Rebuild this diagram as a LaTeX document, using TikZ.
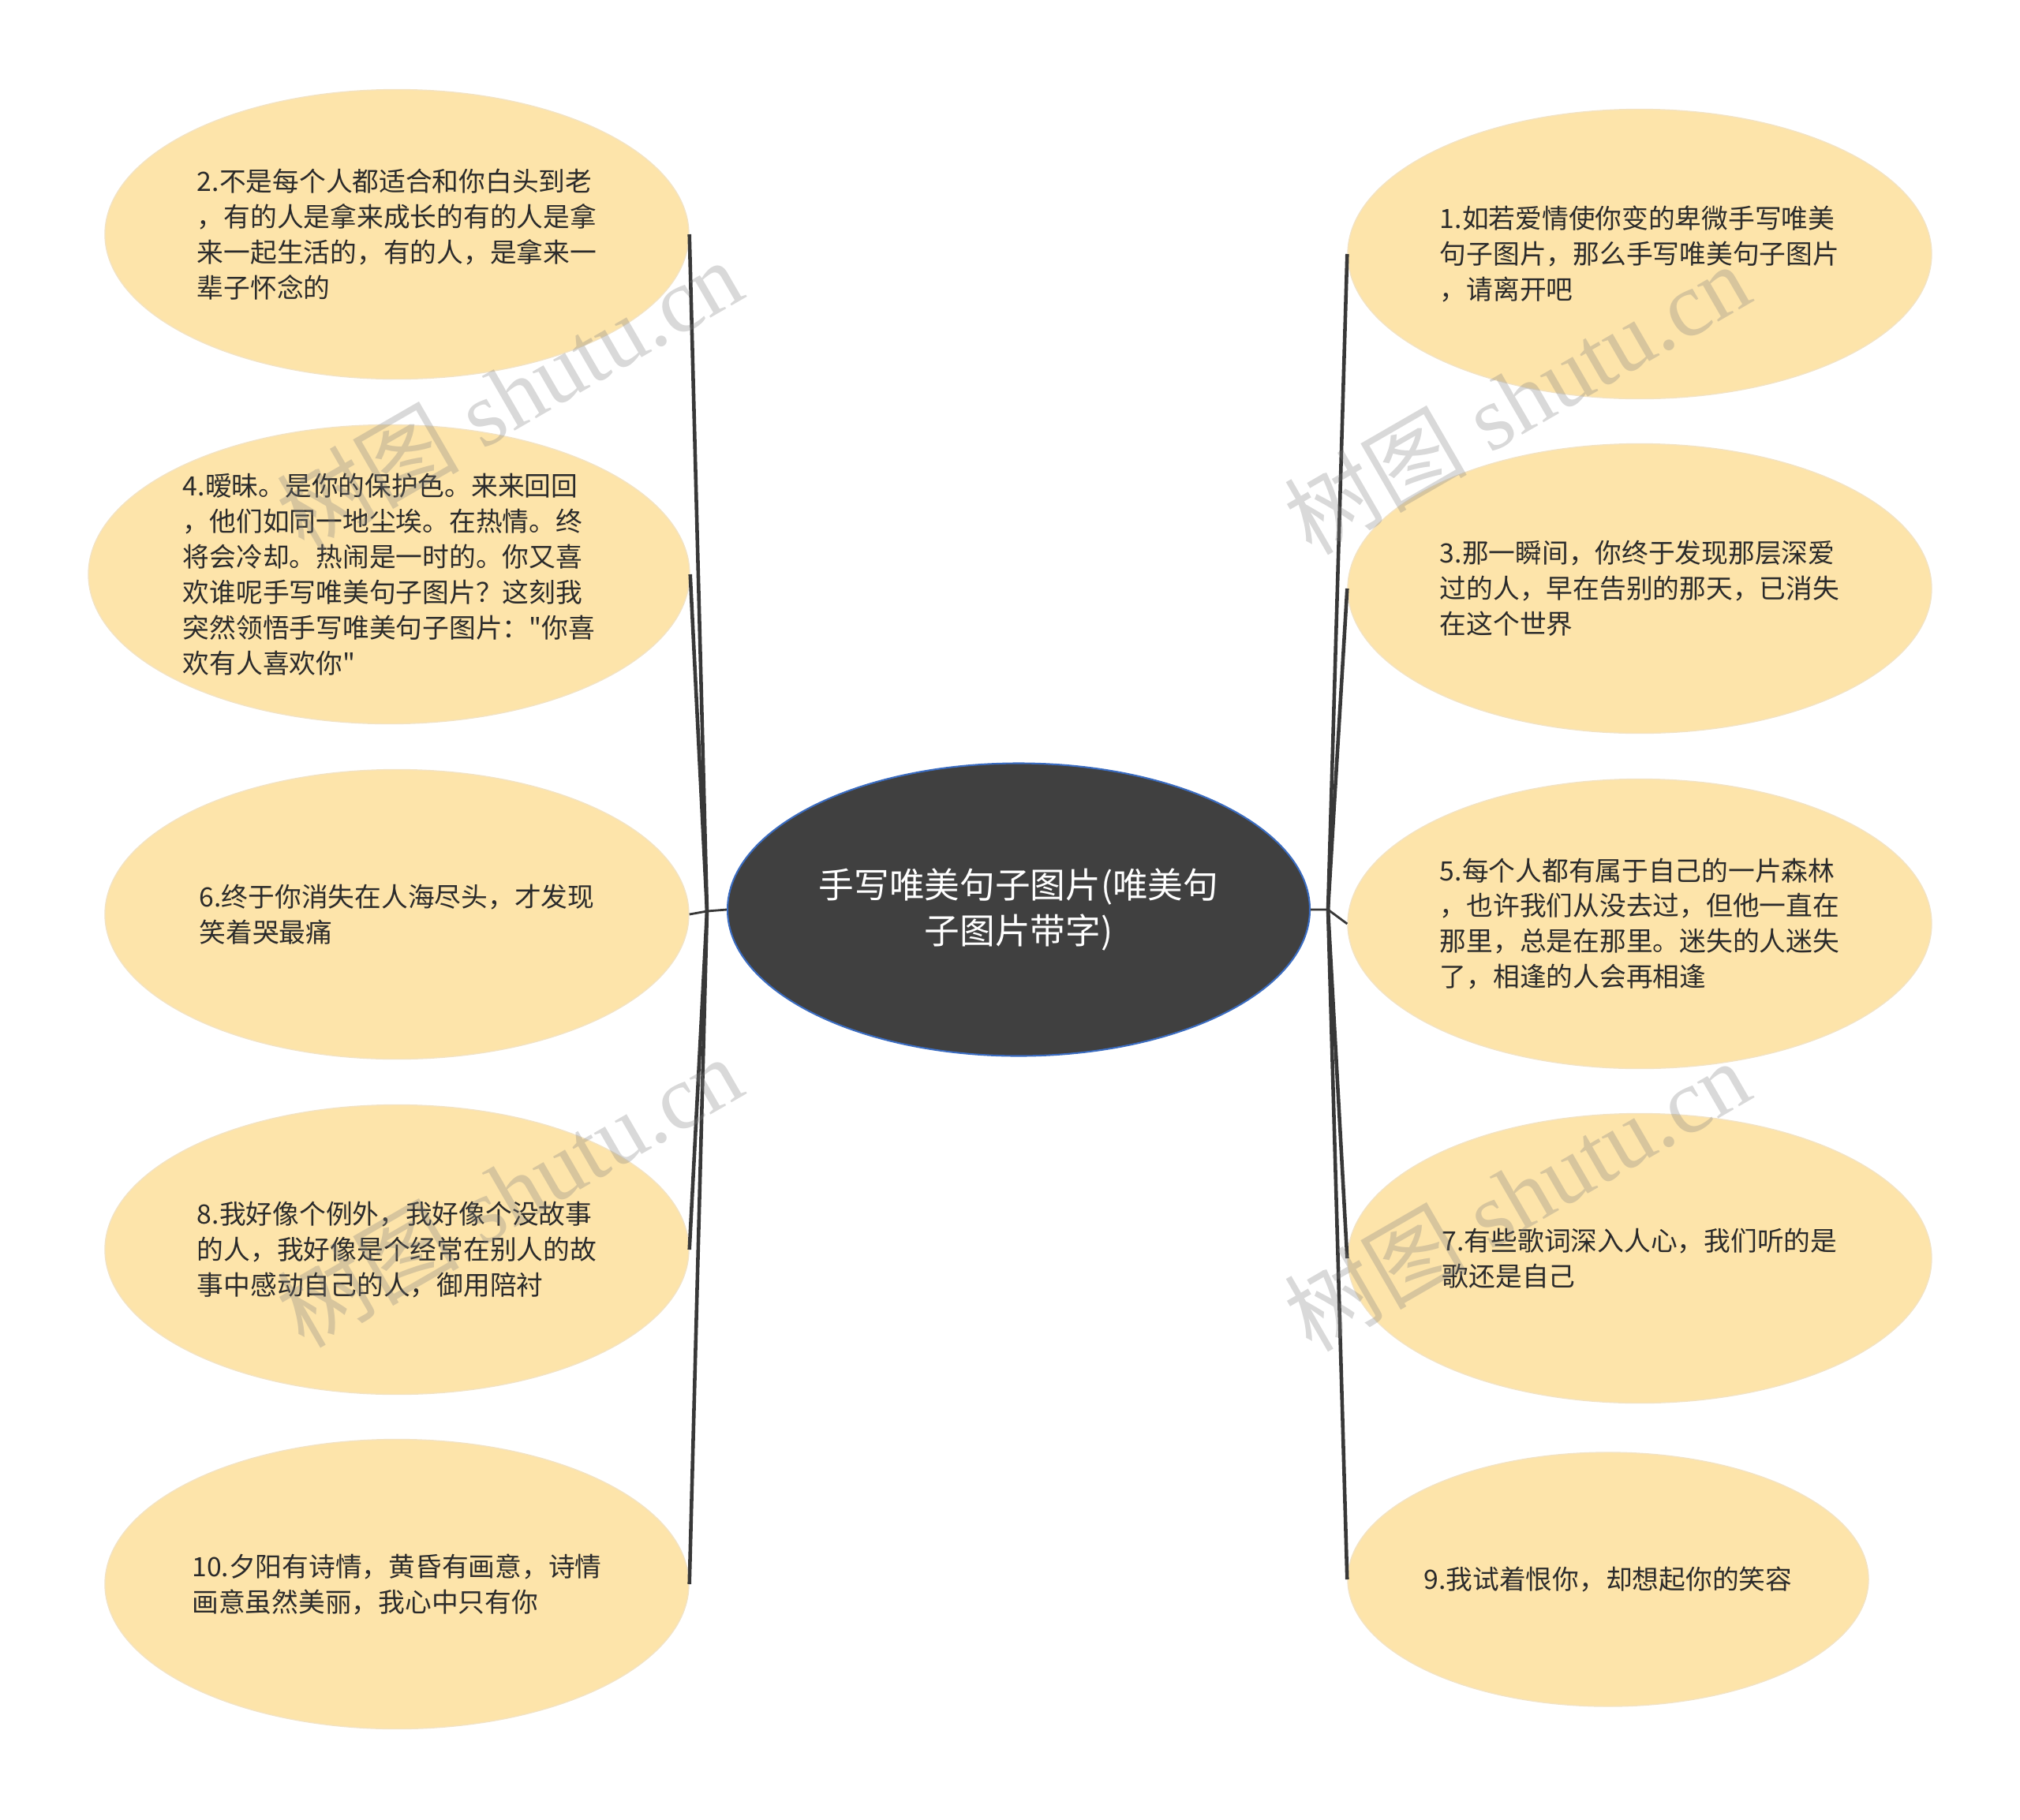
\documentclass[tikz,border=0pt]{standalone}
\usepackage{fontspec}
\newfontfamily\cjk{Noto Sans CJK SC}
\newfontfamily\wmfont{Liberation Serif}
\usetikzlibrary{shapes.geometric}
\definecolor{leaffill}{HTML}{FDE4AA}
\definecolor{leafline}{HTML}{F3E3C3}
\definecolor{rootfill}{HTML}{404040}
\definecolor{rootline}{HTML}{3B6CC0}
\definecolor{linkcol}{HTML}{383838}
\definecolor{textcol}{HTML}{2B2B2B}
\begin{document}
\begin{tikzpicture}[
  leaf/.style={ellipse, fill=leaffill, draw=leafline, line width=0.4pt, inner sep=0pt,
    minimum width=7.4cm, minimum height=3.67cm, align=left, text=textcol,
    font=\cjk\fontsize{9.6pt}{12.8pt}\selectfont},
  root/.style={ellipse, fill=rootfill, draw=rootline, line width=0.6pt, inner sep=0pt,
    minimum width=7.38cm, minimum height=3.71cm, align=center, text=white,
    font=\cjk\fontsize{12.7pt}{16.7pt}\selectfont},
  branch/.style={draw=linkcol, line width=1.3pt},
  stub/.style={draw=linkcol, line width=0.8pt},
  wm/.style={rotate=30, text=gray, text opacity=0.3, inner sep=0pt,
    font=\wmfont\fontsize{33pt}{33pt}\selectfont}
]
\useasboundingbox (0,0) rectangle (25.6,-23.06);
\node[root] (root) at (12.91,-11.53) {手写唯美句子图片(唯美句\\子图片带字)};
\node[leaf] (n2) at (5.03,-2.97) {2.不是每个人都适合和你白头到老\\，有的人是拿来成长的有的人是拿\\来一起生活的，有的人，是拿来一\\辈子怀念的};
\node[leaf, minimum width=7.62cm, minimum height=3.79cm] (n4) at (4.93,-7.28) {4.暧昧。是你的保护色。来来回回\\，他们如同一地尘埃。在热情。终\\将会冷却。热闹是一时的。你又喜\\欢谁呢手写唯美句子图片？这刻我\\突然领悟手写唯美句子图片："你喜\\欢有人喜欢你"};
\node[leaf] (n6) at (5.03,-11.59) {6.终于你消失在人海尽头，才发现\\笑着哭最痛};
\node[leaf] (n8) at (5.03,-15.84) {8.我好像个例外，我好像个没故事\\的人，我好像是个经常在别人的故\\事中感动自己的人，御用陪衬};
\node[leaf] (n10) at (5.03,-20.08) {10.夕阳有诗情，黄昏有画意，诗情\\画意虽然美丽，我心中只有你};
\node[leaf] (n1) at (20.78,-3.22) {1.如若爱情使你变的卑微手写唯美\\句子图片，那么手写唯美句子图片\\，请离开吧};
\node[leaf] (n3) at (20.78,-7.46) {3.那一瞬间，你终于发现那层深爱\\过的人，早在告别的那天，已消失\\在这个世界};
\node[leaf] (n5) at (20.78,-11.71) {5.每个人都有属于自己的一片森林\\，也许我们从没去过，但他一直在\\那里，总是在那里。迷失的人迷失\\了，相逢的人会再相逢};
\node[leaf] (n7) at (20.78,-15.95) {7.有些歌词深入人心，我们听的是\\歌还是自己};
\node[leaf, minimum width=6.58cm, minimum height=3.22cm] (n9) at (20.38,-20.02) {9.我试着恨你，却想起你的笑容};
\coordinate (hubL) at (8.96,-11.55);
\coordinate (hubR) at (16.83,-11.53);
\draw[stub] (root.west) -- (hubL) -- (n6.east);
\draw[branch] (hubL) -- (n2.east);
\draw[branch] (hubL) -- (n4.east);
\draw[branch] (hubL) -- (n8.east);
\draw[branch] (hubL) -- (n10.east);
\draw[stub] (root.east) -- (hubR) -- (n5.west);
\draw[branch] (hubR) -- (n1.west);
\draw[branch] (hubR) -- (n3.west);
\draw[branch] (hubR) -- (n7.west);
\draw[branch] (hubR) -- (n9.west);
\node[wm] (wm1) at (6.45,-5.00) {{\cjk 树图} shutu.cn};
\node[wm] (wm2) at (6.45,-15.10) {{\cjk 树图} shutu.cn};
\node[wm] (wm3) at (19.22,-5.05) {{\cjk 树图} shutu.cn};
\node[wm] (wm4) at (19.22,-15.15) {{\cjk 树图} shutu.cn};
\end{tikzpicture}
\end{document}
